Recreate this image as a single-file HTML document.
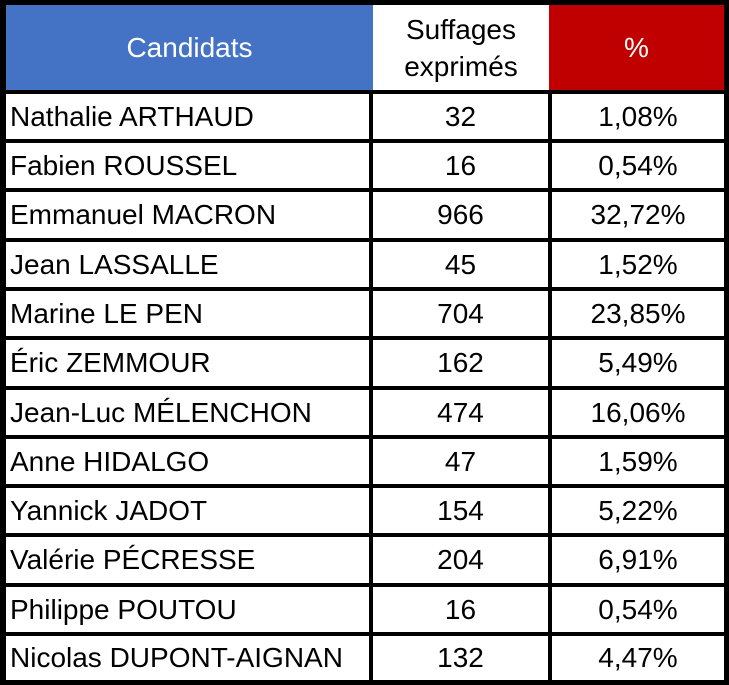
<!DOCTYPE html>
<html><head><meta charset="utf-8">
<style>
html,body{margin:0;padding:0;background:#fff;}
body{width:729px;height:685px;position:relative;overflow:hidden;font-family:"Liberation Sans",Arial,sans-serif;font-size:28px;color:#000;}
.b{position:absolute;background:#000;}
.c{position:absolute;display:flex;align-items:center;white-space:nowrap;}
.l{left:10px;width:360px;}
.m{left:373px;width:175px;justify-content:center;}
.r{left:552px;width:172px;justify-content:center;}
</style></head><body>
<div style="position:absolute;left:6px;top:5px;width:367px;height:85px;background:#4472C4;"></div>
<div style="position:absolute;left:549px;top:5px;width:175px;height:85px;background:#C00000;"></div>
<div class="c" style="left:6px;top:5px;width:367px;height:85px;justify-content:center;color:#fff;">Candidats</div>
<div class="c" style="left:373px;top:5px;width:176px;height:85px;justify-content:center;text-align:center;line-height:37px;"><div>Suffages<br>exprimés</div></div>
<div class="c" style="left:549px;top:5px;width:175px;height:85px;justify-content:center;color:#fff;">%</div>

<div class="b" style="left:0;top:0;width:729px;height:5px;"></div>
<div class="b" style="left:0;top:680px;width:729px;height:5px;"></div>
<div class="b" style="left:0;top:0;width:6px;height:685px;"></div>
<div class="b" style="left:724px;top:0;width:5px;height:685px;"></div>
<div class="b" style="left:369px;top:90px;width:4px;height:595px;"></div>
<div class="b" style="left:548px;top:90px;width:4px;height:595px;"></div>

<div class="b" style="left:0;top:90px;width:729px;height:4px;"></div>
<div class="b" style="left:0;top:139px;width:729px;height:4px;"></div>
<div class="b" style="left:0;top:188px;width:729px;height:4px;"></div>
<div class="b" style="left:0;top:238px;width:729px;height:4px;"></div>
<div class="b" style="left:0;top:287px;width:729px;height:4px;"></div>
<div class="b" style="left:0;top:336px;width:729px;height:4px;"></div>
<div class="b" style="left:0;top:386px;width:729px;height:4px;"></div>
<div class="b" style="left:0;top:435px;width:729px;height:4px;"></div>
<div class="b" style="left:0;top:484px;width:729px;height:4px;"></div>
<div class="b" style="left:0;top:533px;width:729px;height:4px;"></div>
<div class="b" style="left:0;top:583px;width:729px;height:4px;"></div>
<div class="b" style="left:0;top:632px;width:729px;height:4px;"></div>

<div class="c l" style="top:94px;height:45px;">Nathalie ARTHAUD</div><div class="c m" style="top:94px;height:45px;">32</div><div class="c r" style="top:94px;height:45px;">1,08%</div>
<div class="c l" style="top:143px;height:45px;">Fabien ROUSSEL</div><div class="c m" style="top:143px;height:45px;">16</div><div class="c r" style="top:143px;height:45px;">0,54%</div>
<div class="c l" style="top:192px;height:46px;">Emmanuel MACRON</div><div class="c m" style="top:192px;height:46px;">966</div><div class="c r" style="top:192px;height:46px;">32,72%</div>
<div class="c l" style="top:242px;height:45px;">Jean LASSALLE</div><div class="c m" style="top:242px;height:45px;">45</div><div class="c r" style="top:242px;height:45px;">1,52%</div>
<div class="c l" style="top:291px;height:45px;">Marine LE PEN</div><div class="c m" style="top:291px;height:45px;">704</div><div class="c r" style="top:291px;height:45px;">23,85%</div>
<div class="c l" style="top:340px;height:46px;">Éric ZEMMOUR</div><div class="c m" style="top:340px;height:46px;">162</div><div class="c r" style="top:340px;height:46px;">5,49%</div>
<div class="c l" style="top:390px;height:45px;">Jean-Luc MÉLENCHON</div><div class="c m" style="top:390px;height:45px;">474</div><div class="c r" style="top:390px;height:45px;">16,06%</div>
<div class="c l" style="top:439px;height:45px;">Anne HIDALGO</div><div class="c m" style="top:439px;height:45px;">47</div><div class="c r" style="top:439px;height:45px;">1,59%</div>
<div class="c l" style="top:488px;height:45px;">Yannick JADOT</div><div class="c m" style="top:488px;height:45px;">154</div><div class="c r" style="top:488px;height:45px;">5,22%</div>
<div class="c l" style="top:537px;height:46px;">Valérie PÉCRESSE</div><div class="c m" style="top:537px;height:46px;">204</div><div class="c r" style="top:537px;height:46px;">6,91%</div>
<div class="c l" style="top:587px;height:45px;">Philippe POUTOU</div><div class="c m" style="top:587px;height:45px;">16</div><div class="c r" style="top:587px;height:45px;">0,54%</div>
<div class="c l" style="top:636px;height:44px;">Nicolas DUPONT-AIGNAN</div><div class="c m" style="top:636px;height:44px;">132</div><div class="c r" style="top:636px;height:44px;">4,47%</div>
</body></html>
